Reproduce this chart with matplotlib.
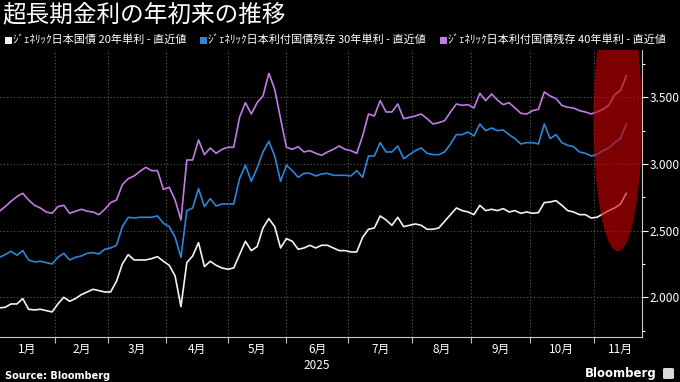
import numpy as np
import pandas as pd
import matplotlib
matplotlib.use("Agg")
import matplotlib.pyplot as plt
from matplotlib.patches import Ellipse, Rectangle, FancyBboxPatch
from matplotlib.ticker import MultipleLocator, FuncFormatter, FixedLocator

plt.rcParams['font.family'] = ['Noto Sans CJK JP', 'DejaVu Sans']

# ---------------- data ----------------
title = "超長期金利の年初来の推移"
series_labels = [
    "ｼﾞｪﾈﾘｯｸ日本国債 20年単利 - 直近値",
    "ｼﾞｪﾈﾘｯｸ日本利付国債残存 30年単利 - 直近値",
    "ｼﾞｪﾈﾘｯｸ日本利付国債残存 40年単利 - 直近値",
]
month_labels = ["1月", "2月", "3月", "4月", "5月", "6月", "7月", "8月", "9月", "10月", "11月"]
year_label = "2025"
source_text = "Source: Bloomberg"

# Japanese market holidays (trading-day axis)
jp_holidays = ["2025-01-13", "2025-02-11", "2025-02-24", "2025-03-20", "2025-04-29",
               "2025-05-05", "2025-05-06", "2025-07-21", "2025-08-11", "2025-09-15",
               "2025-09-23", "2025-10-13", "2025-11-03", "2025-11-24"]
first_day = "2025-01-06"
last_day = "2025-11-19"
sample_step = 2  # every other trading day

# 20-year yield (%)
jgb20 = [1.920, 1.925, 1.950, 1.950, 1.990, 1.910, 1.905, 1.910, 1.900, 1.890,
         1.950, 2.000, 1.970, 1.990, 2.020, 2.040, 2.060, 2.050, 2.040, 2.040,
         2.120, 2.250, 2.320, 2.280, 2.280, 2.280, 2.290, 2.305, 2.270, 2.240,
         2.160, 1.930, 2.260, 2.310, 2.410, 2.230, 2.270, 2.240, 2.220, 2.210,
         2.220, 2.320, 2.420, 2.350, 2.380, 2.520, 2.590, 2.530, 2.370, 2.440,
         2.420, 2.360, 2.370, 2.390, 2.370, 2.390, 2.390, 2.370, 2.350, 2.350,
         2.340, 2.340, 2.450, 2.510, 2.520, 2.610, 2.580, 2.540, 2.600, 2.530,
         2.540, 2.550, 2.540, 2.510, 2.510, 2.520, 2.570, 2.620, 2.670, 2.650,
         2.640, 2.620, 2.690, 2.650, 2.660, 2.650, 2.665, 2.640, 2.650, 2.630,
         2.640, 2.630, 2.635, 2.710, 2.715, 2.725, 2.690, 2.650, 2.640, 2.620,
         2.620, 2.595, 2.600, 2.625, 2.650, 2.670, 2.700, 2.780]

# 30-year yield (%)
jgb30 = [2.300, 2.320, 2.345, 2.315, 2.350, 2.280, 2.265, 2.270, 2.260, 2.250,
         2.300, 2.330, 2.280, 2.300, 2.310, 2.330, 2.335, 2.325, 2.360, 2.370,
         2.390, 2.530, 2.600, 2.595, 2.600, 2.600, 2.600, 2.610, 2.555, 2.530,
         2.450, 2.300, 2.650, 2.670, 2.815, 2.680, 2.740, 2.685, 2.700, 2.700,
         2.700, 2.890, 2.990, 2.870, 2.970, 3.090, 3.170, 3.060, 2.870, 2.990,
         2.950, 2.900, 2.930, 2.930, 2.910, 2.925, 2.930, 2.915, 2.915, 2.915,
         2.910, 2.950, 2.900, 3.060, 3.060, 3.160, 3.090, 3.090, 3.135, 3.040,
         3.070, 3.100, 3.120, 3.080, 3.070, 3.070, 3.090, 3.150, 3.220, 3.220,
         3.240, 3.210, 3.300, 3.250, 3.270, 3.250, 3.255, 3.220, 3.190, 3.150,
         3.160, 3.160, 3.150, 3.300, 3.190, 3.220, 3.160, 3.140, 3.130, 3.090,
         3.080, 3.060, 3.070, 3.100, 3.120, 3.160, 3.190, 3.300]

# 40-year yield (%)
jgb40 = [2.645, 2.680, 2.720, 2.755, 2.780, 2.730, 2.690, 2.670, 2.640, 2.630,
         2.680, 2.690, 2.630, 2.645, 2.660, 2.645, 2.640, 2.620, 2.660, 2.710,
         2.730, 2.845, 2.890, 2.910, 2.945, 2.975, 2.950, 2.950, 2.810, 2.825,
         2.730, 2.580, 3.030, 3.030, 3.180, 3.070, 3.120, 3.080, 3.110, 3.125,
         3.125, 3.350, 3.460, 3.375, 3.460, 3.510, 3.680, 3.560, 3.340, 3.125,
         3.110, 3.130, 3.090, 3.100, 3.080, 3.065, 3.090, 3.110, 3.135, 3.110,
         3.100, 3.080, 3.210, 3.375, 3.360, 3.475, 3.390, 3.390, 3.450, 3.340,
         3.350, 3.360, 3.375, 3.340, 3.300, 3.310, 3.325, 3.390, 3.450, 3.440,
         3.445, 3.420, 3.530, 3.475, 3.525, 3.480, 3.445, 3.460, 3.420, 3.380,
         3.375, 3.400, 3.410, 3.540, 3.510, 3.490, 3.440, 3.425, 3.420, 3.400,
         3.390, 3.375, 3.390, 3.410, 3.440, 3.520, 3.550, 3.660]

colors = ["#f2f2f2", "#2e86d8", "#c27be3"]

# ---------------- calendar / x positions ----------------
cal = pd.bdate_range("2025-01-06", "2025-12-31", freq="C", holidays=jp_holidays)
pos_all = np.arange(len(cal))
mask = (cal >= pd.Timestamp(first_day)) & (cal <= pd.Timestamp(last_day))
x = pos_all[mask][::sample_step]
assert len(x) == len(jgb20) == len(jgb30) == len(jgb40), (len(x), len(jgb20), len(jgb30), len(jgb40))

month_start = [int(np.argmax(cal.month == m)) for m in range(1, 13)]
month_mid = [(month_start[k] + month_start[k + 1]) / 2 for k in range(11)]

# ---------------- figure ----------------
W, H = 680, 382
fig = plt.figure(figsize=(W / 100, H / 100), dpi=100, facecolor="black")
ax = fig.add_axes([0, 1 - 337 / H, 641.7 / W, (337 - 50) / H], facecolor="black")

for vals, c in zip([jgb20, jgb30, jgb40], colors):
    ax.plot(x, vals, color=c, lw=1.2, zorder=3, solid_joinstyle="round")

ax.set_xlim(0.24, 219.25)
ax.set_ylim(1.702, 3.855)

# highlight ellipse
ax.add_patch(Ellipse((211.1, 3.33), width=16.5, height=1.97,
                     facecolor=(0.82, 0.0, 0.0), edgecolor="none", alpha=0.6, zorder=5))

# grid
grid_kw = dict(color="#5c5c5c", lw=0.8, linestyle=(0, (1, 2)))
ax.yaxis.set_major_locator(MultipleLocator(0.5))
ax.yaxis.set_minor_locator(MultipleLocator(0.25))
ax.yaxis.set_major_formatter(FuncFormatter(lambda v, p: f"{v:.3f}"))
ax.xaxis.set_major_locator(FixedLocator(month_start[1:11]))
ax.xaxis.set_minor_locator(FixedLocator(month_mid))
ax.xaxis.set_major_formatter(FuncFormatter(lambda v, p: ""))
ax.xaxis.set_minor_formatter(FuncFormatter(lambda v, p: ""))
ax.grid(True, which="major", axis="both", **grid_kw)
ax.set_axisbelow(True)

ax.yaxis.tick_right()
ax.tick_params(axis="y", which="major", colors="white", length=4, width=0.8,
               labelsize=8.6, pad=1.5, labelcolor="white")
ax.tick_params(axis="y", which="minor", colors="white", length=2.5, width=0.8)
ax.tick_params(axis="x", which="major", colors="#bfbfbf", length=4, width=0.8)
ax.tick_params(axis="x", which="minor", length=0)

for s in ["left", "top"]:
    ax.spines[s].set_visible(False)
for s in ["right", "bottom"]:
    ax.spines[s].set_color("#c8c8c8")
    ax.spines[s].set_linewidth(0.8)

# month labels
for lab, xm in zip(month_labels, month_mid):
    ax.text(xm, -0.045, lab, transform=ax.get_xaxis_transform(), ha="center", va="center",
            color="white", fontsize=8.5)
ax.text(month_mid[5], -0.1, year_label, transform=ax.get_xaxis_transform(), ha="center",
        va="center", color="white", fontsize=8.5)

# title
fig.text(2 / W, 1 - 15 / H, title, color="white", fontsize=17, ha="left", va="center")

# legend
leg_x = [5, 200, 440]
for lx, lab, c in zip(leg_x, series_labels, colors):
    fig.patches.append(Rectangle((lx / W, 1 - 43.5 / H), 6.5 / W, 6.5 / H, transform=fig.transFigure,
                                 facecolor=c, edgecolor="none"))
    fig.text((lx + 8) / W, 1 - 40 / H, lab, color="white", fontsize=8, ha="left", va="center")

# footer
fig.text(5 / W, 1 - 376 / H, source_text, color="white", fontsize=7, fontweight="bold",
         ha="left", va="center", family=["DejaVu Sans"])
fig.text(657 / W, 1 - 373 / H, "Bloomberg", color="white", fontsize=8.5, fontweight="bold",
         ha="right", va="center", family=["DejaVu Sans"])
fig.patches.append(FancyBboxPatch((663 / W, 1 - 379 / H), 11 / W, 11 / H, transform=fig.transFigure,
                                  boxstyle="round,pad=0,rounding_size=0.003",
                                  facecolor="#d9d9d9", edgecolor="none"))

fig.savefig("out.png", dpi=100, facecolor="black")
